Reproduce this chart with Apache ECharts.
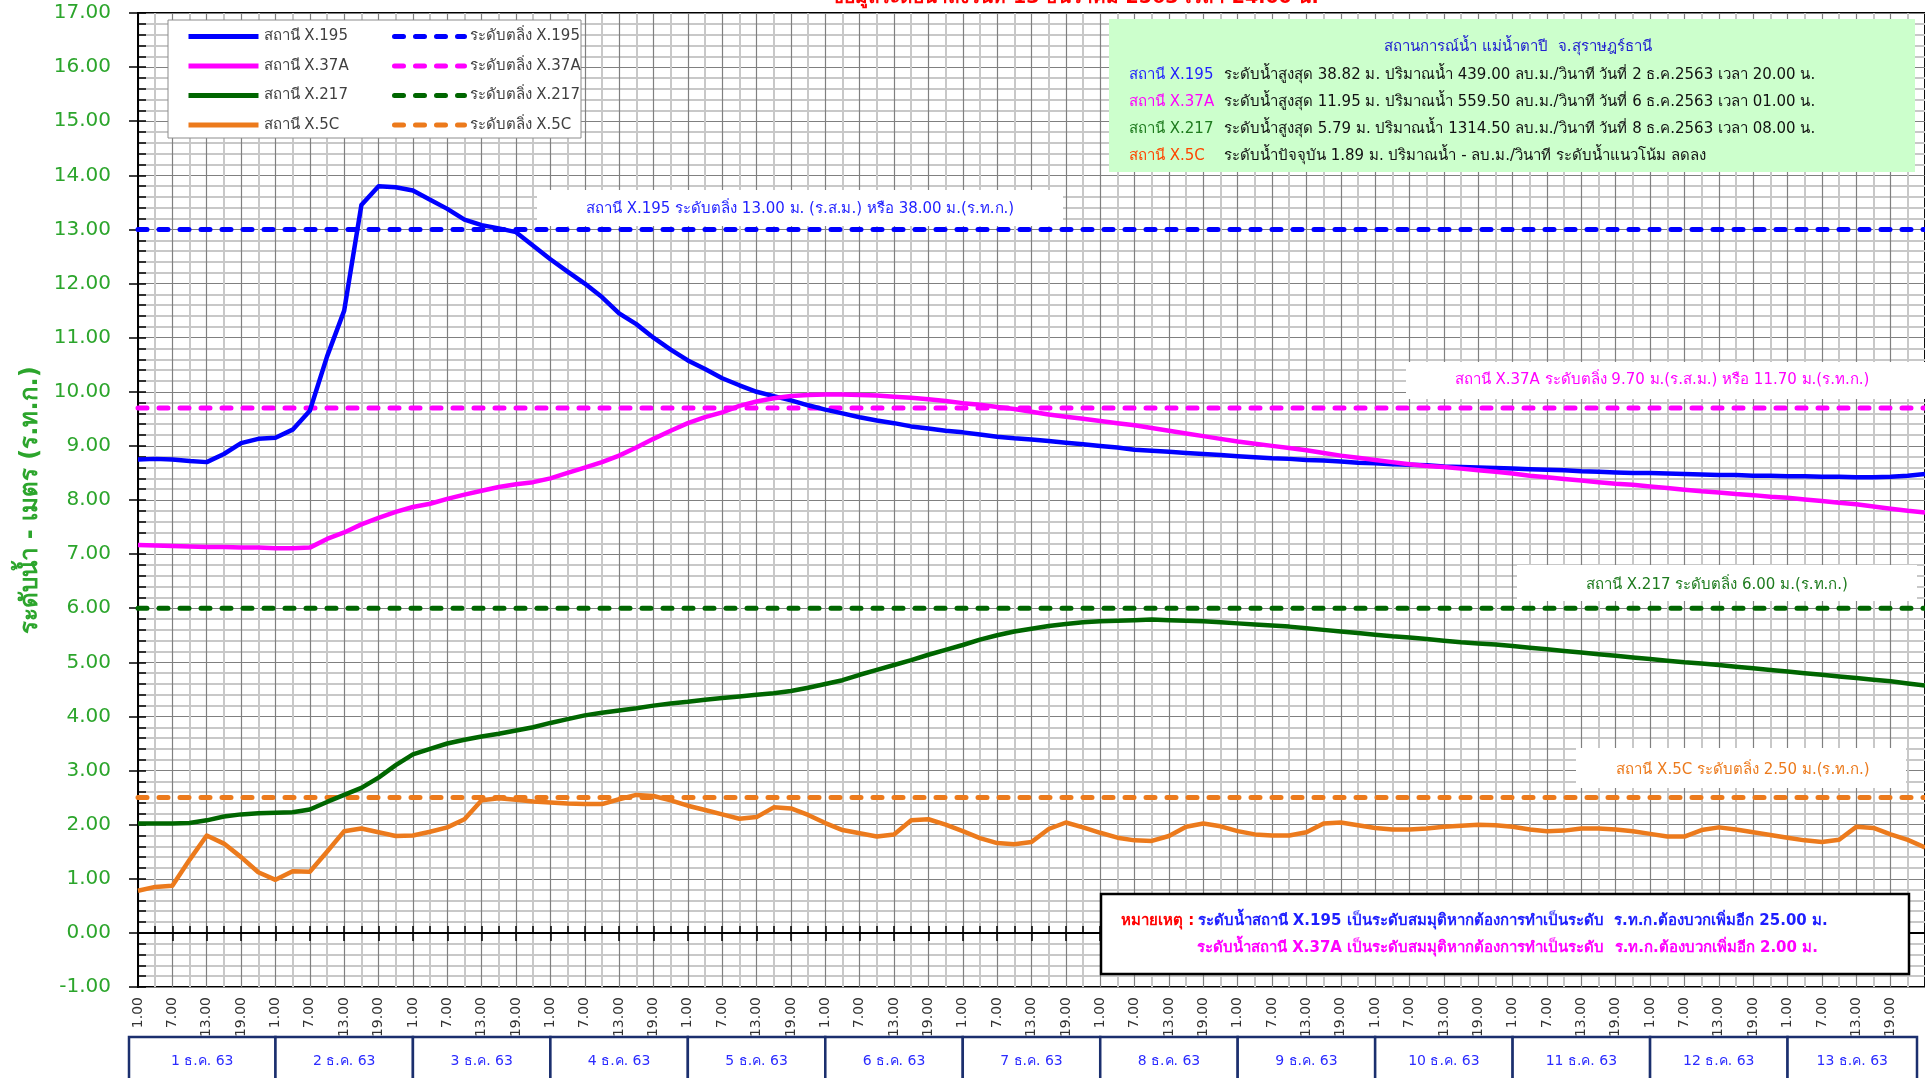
<!DOCTYPE html>
<html lang="th">
<head>
<meta charset="utf-8">
<title>ระดับน้ำ แม่น้ำตาปี</title>
<script src="https://cdn.jsdelivr.net/npm/echarts@6/dist/echarts.min.js"></script>
<style>
  html, body { margin: 0; padding: 0; background: #fff; }
  #chart { width: 1925px; height: 1078px; }
</style>
</head>
<body>
<div id="chart"></div>
<script>
// --- ข้อมูล: ระดับน้ำทุก 3 ชม. เริ่ม 1 ธ.ค. 63 เวลา 1.00 น. ---
const STEP_HOURS = 3;
const TOTAL_HOURS = 312;
const dayNumbers = [1, 2, 3, 4, 5, 6, 7, 8, 9, 10, 11, 12, 13];

const stationNames = ['สถานี X.195', 'สถานี X.37A', 'สถานี X.217', 'สถานี X.5C'];
const bankNames = ['ระดับตลิ่ง X.195', 'ระดับตลิ่ง X.37A', 'ระดับตลิ่ง X.217', 'ระดับตลิ่ง X.5C'];
const bankLevels = [13.0, 9.7, 6.0, 2.5];

const levelX195 = [
  8.75, 8.76, 8.75, 8.72, 8.70, 8.85, 9.05, 9.13,
  9.15, 9.30, 9.65, 10.65, 11.50, 13.45, 13.80, 13.78,
  13.72, 13.55, 13.38, 13.18, 13.08, 13.02, 12.95, 12.70,
  12.45, 12.22, 12.00, 11.75, 11.45, 11.25, 11.00, 10.78,
  10.58, 10.42, 10.25, 10.12, 10.00, 9.92, 9.84, 9.75,
  9.67, 9.60, 9.53, 9.47, 9.42, 9.36, 9.32, 9.28,
  9.25, 9.21, 9.17, 9.14, 9.12, 9.09, 9.06, 9.03,
  9.00, 8.97, 8.93, 8.91, 8.89, 8.87, 8.85, 8.83,
  8.81, 8.79, 8.77, 8.76, 8.74, 8.73, 8.71, 8.69,
  8.68, 8.66, 8.65, 8.64, 8.62, 8.61, 8.60, 8.59,
  8.58, 8.57, 8.56, 8.55, 8.53, 8.52, 8.51, 8.50,
  8.50, 8.49, 8.48, 8.47, 8.46, 8.46, 8.45, 8.45,
  8.44, 8.44, 8.43, 8.43, 8.42, 8.42, 8.43, 8.45,
  8.48
];
const levelX37A = [
  7.17, 7.16, 7.15, 7.14, 7.13, 7.13, 7.12, 7.12,
  7.11, 7.11, 7.12, 7.28, 7.40, 7.55, 7.67, 7.78,
  7.87, 7.93, 8.02, 8.10, 8.17, 8.24, 8.29, 8.33,
  8.40, 8.50, 8.60, 8.70, 8.82, 8.97, 9.13, 9.28,
  9.42, 9.53, 9.62, 9.74, 9.82, 9.88, 9.92, 9.94,
  9.95, 9.95, 9.94, 9.93, 9.91, 9.89, 9.86, 9.83,
  9.79, 9.76, 9.72, 9.68, 9.63, 9.58, 9.54, 9.50,
  9.46, 9.42, 9.38, 9.33, 9.28, 9.23, 9.18, 9.13,
  9.08, 9.04, 9.00, 8.96, 8.92, 8.87, 8.82, 8.78,
  8.74, 8.70, 8.66, 8.63, 8.61, 8.58, 8.55, 8.52,
  8.49, 8.45, 8.42, 8.39, 8.36, 8.33, 8.30, 8.28,
  8.25, 8.22, 8.19, 8.16, 8.14, 8.11, 8.09, 8.06,
  8.04, 8.01, 7.98, 7.95, 7.92, 7.88, 7.84, 7.80,
  7.77
];
const levelX217 = [
  2.02, 2.02, 2.02, 2.03, 2.08, 2.15, 2.19, 2.21,
  2.22, 2.23, 2.28, 2.42, 2.55, 2.68, 2.87, 3.10,
  3.30, 3.40, 3.50, 3.57, 3.63, 3.68, 3.74, 3.80,
  3.88, 3.95, 4.02, 4.07, 4.11, 4.15, 4.20, 4.24,
  4.27, 4.31, 4.34, 4.37, 4.40, 4.43, 4.47, 4.53,
  4.60, 4.67, 4.77, 4.86, 4.95, 5.04, 5.14, 5.23,
  5.32, 5.42, 5.50, 5.57, 5.62, 5.67, 5.71, 5.74,
  5.76, 5.77, 5.78, 5.79, 5.78, 5.77, 5.76, 5.74,
  5.72, 5.70, 5.68, 5.66, 5.63, 5.60, 5.57, 5.54,
  5.51, 5.48, 5.46, 5.43, 5.40, 5.37, 5.35, 5.33,
  5.30, 5.27, 5.24, 5.21, 5.18, 5.15, 5.12, 5.09,
  5.06, 5.03, 5.00, 4.98, 4.95, 4.92, 4.89, 4.86,
  4.83, 4.80, 4.77, 4.74, 4.71, 4.68, 4.65, 4.61,
  4.57
];
const levelX5C = [
  0.78, 0.85, 0.87, 1.35, 1.80, 1.65, 1.40, 1.12,
  0.98, 1.14, 1.13, 1.50, 1.88, 1.93, 1.86, 1.79,
  1.80, 1.87, 1.95, 2.10, 2.45, 2.49, 2.46, 2.43,
  2.41, 2.39, 2.38, 2.38, 2.47, 2.55, 2.53, 2.45,
  2.35, 2.27, 2.19, 2.11, 2.14, 2.32, 2.30, 2.18,
  2.03, 1.90, 1.84, 1.78, 1.82, 2.08, 2.10, 2.00,
  1.88, 1.75, 1.66, 1.64, 1.68, 1.92, 2.04, 1.95,
  1.85, 1.76, 1.71, 1.70, 1.79, 1.96, 2.02, 1.97,
  1.88, 1.82, 1.80, 1.80, 1.86, 2.02, 2.04, 1.99,
  1.94, 1.91, 1.91, 1.93, 1.96, 1.98, 2.00, 1.99,
  1.96, 1.91, 1.88, 1.89, 1.93, 1.93, 1.91, 1.88,
  1.83, 1.78, 1.78, 1.90, 1.95, 1.91, 1.86, 1.81,
  1.76, 1.71, 1.68, 1.72, 1.96, 1.94, 1.82, 1.72,
  1.58
];

// --- สไตล์ ---
const FONT = "Tahoma, 'DejaVu Sans', 'Noto Sans', sans-serif";
const lineColors = ['#0000ff', '#ff00ff', '#006600', '#ec7a1c'];
const axisGreen = '#2ca52c';

const chart = echarts.init(document.getElementById('chart'));

const fmtHour = v => ((v % 24) + 1).toFixed(2);

const series = [];
bankLevels.forEach((lv, i) => {
  series.push({
    name: bankNames[i],
    type: 'line',
    symbol: 'none',
    z: 3,
    data: [[0, lv], [TOTAL_HOURS, lv]],
    lineStyle: { color: lineColors[i], width: 5, type: [9, 12], cap: 'round' },
    itemStyle: { color: lineColors[i] }
  });
});
[levelX195, levelX37A, levelX217, levelX5C].forEach((vals, i) => {
  series.push({
    name: stationNames[i],
    type: 'line',
    symbol: 'none',
    z: 4,
    data: vals.map((v, k) => [k * STEP_HOURS, v]),
    lineStyle: { color: lineColors[i], width: 4.5, join: 'round' },
    itemStyle: { color: lineColors[i] }
  });
});

const legendBase = {
  orient: 'vertical',
  top: 29,
  padding: 0,
  itemWidth: 70,
  itemHeight: 18,
  itemGap: 14.5,
  selectedMode: false,
  z: 20,
  itemStyle: { opacity: 0, borderWidth: 0 },
  lineStyle: { width: 5, opacity: 1 },
  textStyle: { fontSize: 15, color: '#404040', fontFamily: FONT }
};

// กล่องข้อความบนกราฟ
const infoRows = [
  { name: 'สถานี X.195', color: '#1f1fff', text: 'ระดับน้ำสูงสุด 38.82 ม. ปริมาณน้ำ 439.00 ลบ.ม./วินาที วันที่ 2 ธ.ค.2563 เวลา 20.00 น.' },
  { name: 'สถานี X.37A', color: '#ff00ff', text: 'ระดับน้ำสูงสุด 11.95 ม. ปริมาณน้ำ 559.50 ลบ.ม./วินาที วันที่ 6 ธ.ค.2563 เวลา 01.00 น.' },
  { name: 'สถานี X.217', color: '#1e7b1e', text: 'ระดับน้ำสูงสุด 5.79 ม. ปริมาณน้ำ 1314.50 ลบ.ม./วินาที วันที่ 8 ธ.ค.2563 เวลา 08.00 น.' },
  { name: 'สถานี X.5C', color: '#ff4500', text: 'ระดับน้ำปัจจุบัน 1.89 ม. ปริมาณน้ำ - ลบ.ม./วินาที ระดับน้ำแนวโน้ม ลดลง' }
];

const txt = (x, y, text, fill, size, extra) => ({
  type: 'text', x: x, y: y, z: 12,
  style: Object.assign({ text: text, fill: fill, fontSize: size, fontFamily: FONT, align: 'left', verticalAlign: 'middle' }, extra || {})
});
const box = (x, y, w, h, fill, stroke, lw) => ({
  type: 'rect', z: 11,
  shape: { x: x, y: y, width: w, height: h },
  style: { fill: fill, stroke: stroke || null, lineWidth: lw || 0 }
});

const graphics = [
  // หัวเรื่อง (ถูกตัดด้านบน)
  txt(1075, 8, 'ข้อมูลระดับน้ำถึงวันที่ 13 ธันวาคม 2563 เวลา 24.00 น.', '#ff0000', 19, { align: 'center', verticalAlign: 'bottom', fontWeight: 'bold' }),
  // กรอบคำอธิบาย
  box(168, 20, 413, 118, '#fff', '#8c8c8c', 1),
  // กล่องสถานการณ์น้ำ
  box(1109, 19, 806, 153, '#ccffcc'),
  txt(1518, 47, 'สถานการณ์น้ำ แม่น้ำตาปี  จ.สุราษฎร์ธานี', '#2020d0', 15, { align: 'center' }),
  // ป้ายระดับตลิ่ง
  box(537, 190, 526, 36, '#fff'),
  txt(800, 209, 'สถานี X.195 ระดับตลิ่ง 13.00 ม. (ร.ส.ม.) หรือ 38.00 ม.(ร.ท.ก.)', '#1f1fff', 15, { align: 'center' }),
  box(1406, 362, 519, 37, '#fff'),
  txt(1662, 380, 'สถานี X.37A ระดับตลิ่ง 9.70 ม.(ร.ส.ม.) หรือ 11.70 ม.(ร.ท.ก.)', '#ff00ff', 15, { align: 'center' }),
  box(1517, 565, 400, 36, '#fff'),
  txt(1717, 585, 'สถานี X.217 ระดับตลิ่ง 6.00 ม.(ร.ท.ก.)', '#1e7b1e', 15, { align: 'center' }),
  box(1576, 748, 330, 40, '#fff'),
  txt(1743, 770, 'สถานี X.5C ระดับตลิ่ง 2.50 ม.(ร.ท.ก.)', '#ec7a1c', 15, { align: 'center' }),
  // หมายเหตุ
  box(1101, 894, 808, 80, '#fff', '#000', 2.5),
  {
    type: 'text', x: 1121, y: 921, z: 12,
    style: {
      text: '{r|หมายเหตุ :} {b|ระดับน้ำสถานี X.195 เป็นระดับสมมุติหากต้องการทำเป็นระดับ  ร.ท.ก.ต้องบวกเพิ่มอีก 25.00 ม.}',
      verticalAlign: 'middle',
      rich: {
        r: { fill: '#ff0000', fontSize: 15, fontWeight: 'bold', fontFamily: FONT },
        b: { fill: '#1f1fff', fontSize: 15, fontWeight: 'bold', fontFamily: FONT }
      }
    }
  },
  txt(1197, 948, 'ระดับน้ำสถานี X.37A เป็นระดับสมมุติหากต้องการทำเป็นระดับ  ร.ท.ก.ต้องบวกเพิ่มอีก 2.00 ม.', '#ff00ff', 15, { fontWeight: 'bold' })
];
infoRows.forEach((r, i) => {
  const y = 75 + i * 27;
  graphics.push(txt(1129, y, r.name, r.color, 15));
  graphics.push(txt(1224, y, r.text, '#111', 15));
});

const option = {
  animation: false,
  backgroundColor: '#fff',
  textStyle: { fontFamily: FONT },
  grid: {
    left: 138, right: 0, top: 13, bottom: 91,
    show: true, backgroundColor: '#fff', borderColor: '#000', borderWidth: 2,
    outerBoundsMode: 'none'
  },
  legend: [
    Object.assign({}, legendBase, { left: 186, data: stationNames }),
    Object.assign({}, legendBase, { left: 392, data: bankNames })
  ],
  xAxis: [
    {
      type: 'value', min: 0, max: TOTAL_HOURS, interval: 6,
      axisLine: { lineStyle: { color: '#000', width: 2 } },
      axisTick: { show: true, length: 8, lineStyle: { color: '#000', width: 1.5 } },
      minorTick: { show: false, splitNumber: 2 },
      axisLabel: {
        rotate: 90, margin: 10, fontSize: 14, color: '#333', fontFamily: FONT,
        formatter: fmtHour, showMinLabel: true, showMaxLabel: false
      },
      splitLine: { show: true, lineStyle: { color: '#808080', width: 1.2 } },
      minorSplitLine: { show: true, lineStyle: { color: '#c8c8c8', width: 2 } }
    },
    {
      // ขีดสั้นด้านในแกน X
      type: 'value', min: 0, max: TOTAL_HOURS, interval: 6, position: 'bottom',
      axisLine: { show: false },
      axisLabel: { show: false },
      axisTick: { show: true, inside: true, length: 7, lineStyle: { color: '#000', width: 1.5 } },
      minorTick: { show: true, splitNumber: 2, length: 7, lineStyle: { color: '#000', width: 1.5 } },
      splitLine: { show: false },
      minorSplitLine: { show: false }
    }
  ],
  yAxis: [
    {
      type: 'value', min: -1, max: 17, interval: 1,
      name: 'ระดับน้ำ - เมตร (ร.ท.ก.)',
      nameLocation: 'middle', nameGap: 93,
      nameTextStyle: { color: axisGreen, fontSize: 24, fontWeight: 'bold', fontFamily: FONT },
      axisLine: { show: true, lineStyle: { color: '#000', width: 2 } },
      axisTick: { show: true, length: 9, lineStyle: { color: '#000', width: 1.5 } },
      minorTick: { show: false, splitNumber: 5 },
      axisLabel: { margin: 27, fontSize: 20, color: axisGreen, fontFamily: FONT, formatter: v => v.toFixed(2) },
      splitLine: { show: true, lineStyle: { color: '#808080', width: 1.2 } },
      minorSplitLine: { show: true, lineStyle: { color: '#c8c8c8', width: 2 } }
    },
    {
      // ขีดสั้นด้านในแกน Y
      type: 'value', min: -1, max: 17, interval: 1, position: 'left',
      axisLine: { show: false },
      axisLabel: { show: false },
      axisTick: { show: true, inside: true, length: 8, lineStyle: { color: '#000', width: 1.5 } },
      minorTick: { show: true, splitNumber: 5, length: 8, lineStyle: { color: '#000', width: 1.5 } },
      splitLine: { show: false },
      minorSplitLine: { show: false }
    }
  ],
  series: series,
  graphic: graphics
};

chart.setOption(option);

// --- ตารางวันที่ใต้แกน X ---
const xPix = h => chart.convertToPixel({ xAxisIndex: 0 }, h);
const dayBoxes = [];
dayNumbers.forEach((d, i) => {
  const x0 = i === 0 ? xPix(0) - 9 : xPix(i * 24);
  const x1 = i === dayNumbers.length - 1 ? xPix(TOTAL_HOURS) - 8 : xPix((i + 1) * 24);
  dayBoxes.push({
    type: 'rect', z: 11,
    shape: { x: x0, y: 1037, width: x1 - x0, height: 60 },
    style: { fill: '#fff', stroke: '#1b2f6e', lineWidth: 2.5 }
  });
  dayBoxes.push({
    type: 'text', z: 12, x: (x0 + x1) / 2, y: 1061,
    style: { text: d + ' ธ.ค. 63', fill: '#2b2bff', fontSize: 14, fontFamily: FONT, align: 'center', verticalAlign: 'middle' }
  });
});
chart.setOption({ graphic: graphics.concat(dayBoxes) });
</script>
</body>
</html>
